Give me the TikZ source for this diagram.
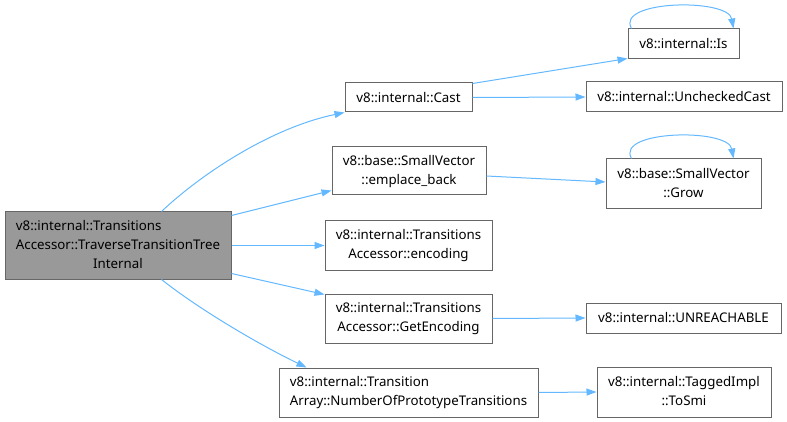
\documentclass[tikz,border=0pt]{standalone}
\usepackage{fontspec}
\setmainfont{Noto Sans}
\usetikzlibrary{arrows.meta}
\definecolor{edgeblue}{HTML}{63B8FF}
\definecolor{boxgray}{HTML}{666666}
\definecolor{mainfill}{HTML}{999999}
\newcommand{\twol}[2]{\begin{tabular}{@{}l@{}}#1\\\multicolumn{1}{@{}c@{}}{#2}\end{tabular}}
\newcommand{\threel}[3]{\begin{tabular}{@{}l@{}}#1\\#2\\\multicolumn{1}{@{}c@{}}{#3}\end{tabular}}
\tikzset{
  fn/.style={draw=boxgray, line width=1pt, fill=white, inner sep=0pt, align=center,
    font=\fontsize{13.3}{19}\selectfont},
  mainfn/.style={fn, fill=mainfill},
  call/.style={draw=edgeblue, line width=1pt, -{Triangle[length=10pt,width=7pt]}}
}
\begin{document}
\begin{tikzpicture}[x=1pt,y=-1pt]
\useasboundingbox (0,0) rectangle (787,422);
\node[mainfn, minimum width=226pt, minimum height=67pt] (main) at (118,245.5)
  {\threel{v8::internal::Transitions}{Accessor::TraverseTransitionTree}{Internal}};
\node[fn, minimum width=127pt, minimum height=29pt] (cast) at (408.5,97.5) {v8::internal::Cast};
\node[fn, minimum width=111pt, minimum height=30pt] (is) at (683.5,44) {v8::internal::Is};
\node[fn, minimum width=196pt, minimum height=30pt] (unchecked) at (684,97) {v8::internal::UncheckedCast};
\node[fn, minimum width=155pt, minimum height=50pt] (grow) at (683.5,184) {\twol{v8::base::SmallVector}{::Grow}};
\node[fn, minimum width=154pt, minimum height=48pt] (emplace) at (409,171) {\twol{v8::base::SmallVector}{::emplace\_back}};
\node[fn, minimum width=167pt, minimum height=49pt] (encoding) at (408.5,245.5) {\twol{v8::internal::Transitions}{Accessor::encoding}};
\node[fn, minimum width=167pt, minimum height=49pt] (getenc) at (408.5,318.5) {\twol{v8::internal::Transitions}{Accessor::GetEncoding}};
\node[fn, minimum width=259pt, minimum height=49pt] (numproto) at (408.5,392.5) {\twol{v8::internal::Transition}{Array::NumberOfPrototypeTransitions}};
\node[fn, minimum width=195pt, minimum height=30pt] (unreach) at (683.5,318) {v8::internal::UNREACHABLE};
\node[fn, minimum width=174pt, minimum height=50pt] (tosmi) at (684,392) {\twol{v8::internal::TaggedImpl}{::ToSmi}};

\draw[call] ([xshift=157pt]main.north west) .. controls (200,175) and (270,128) .. (cast.south west);
\draw[call] ([yshift=-4pt]main.north east) -- ([yshift=5pt]emplace.south west);
\draw[call] (main.east) -- (encoding.west);
\draw[call] ([yshift=6pt]main.south east) -- ([yshift=-1pt]getenc.north west);
\draw[call] ([xshift=157pt]main.south west) .. controls (200,310) and (260,345) .. ([xshift=28pt]numproto.north west);
\draw[call] ([yshift=-1pt]cast.north east) -- ([yshift=1pt]is.south west);
\draw[call] (cast.east) -- (unchecked.west);
\draw[call] ([xshift=4pt]is.north west) .. controls (615,0) and (728,-2) .. ([xshift=-6pt]is.north east);
\draw[call] ([xshift=26pt]grow.north west) .. controls (615,130) and (728,128) .. ([xshift=-28pt]grow.north east);
\draw[call] ([yshift=-5pt]emplace.east) -- ([yshift=2pt]grow.west);
\draw[call] (getenc.east) -- (unreach.west);
\draw[call] (numproto.east) -- (tosmi.west);
\end{tikzpicture}
\end{document}
